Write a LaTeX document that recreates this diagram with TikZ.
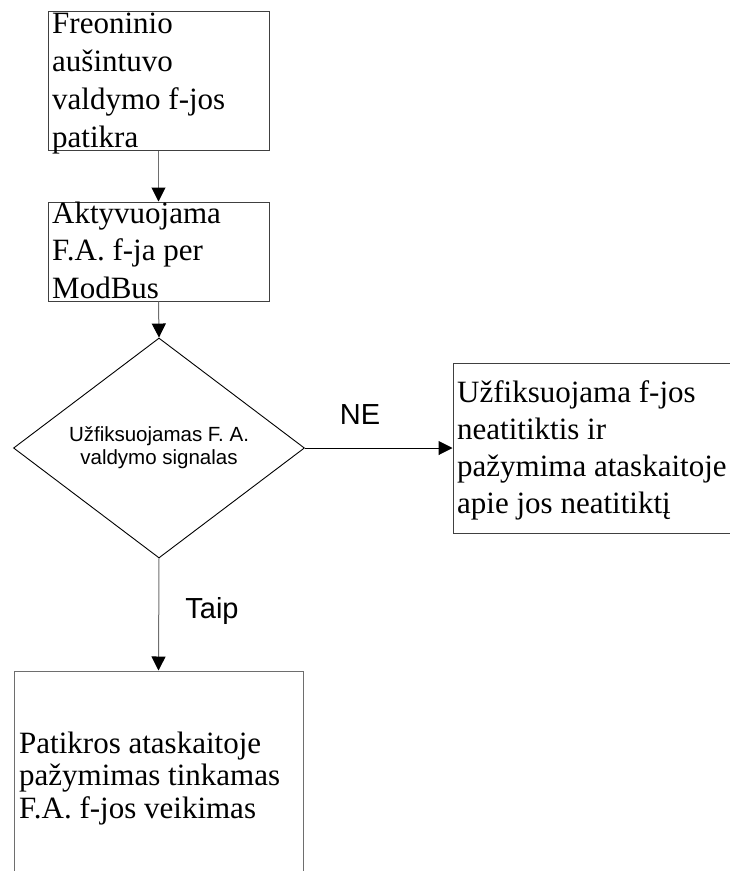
\documentclass[tikz,border=0pt]{standalone}
\usepackage{fontspec}
\setmainfont{Liberation Serif}
\setsansfont{Liberation Sans}
\usetikzlibrary{shapes.geometric,arrows.meta}
\definecolor{boxline}{HTML}{404040}
\definecolor{arrowline}{HTML}{6E6E6E}
\tikzset{
  stepbox/.style={draw=boxline, line width=1pt, rectangle, inner sep=0pt},
  steptext/.style={anchor=base west, align=left, inner sep=0pt, font=\fontsize{31}{38}\selectfont},
  decision/.style={draw=black, line width=0.9pt, diamond, inner sep=0pt},
  flow/.style={draw=arrowline, line width=1pt, -{Triangle[length=14pt,width=14pt,color=black]}},
  flowlabel/.style={font=\sffamily\fontsize{29}{34}\selectfont, inner sep=0pt}
}
\begin{document}
\begin{tikzpicture}[x=1pt,y=-1pt]
\useasboundingbox (0,0) rectangle (729,871);
% process boxes
\node[stepbox, minimum width=221pt, minimum height=139pt] (b1) at (158.5,80.5) {};
\node[stepbox, minimum width=221pt, minimum height=99pt] (b2) at (158.5,251.5) {};
\node[decision, minimum width=291pt, minimum height=220pt] (dec) at (159,448) {};
\node[stepbox, minimum width=287pt, minimum height=170pt] (b3) at (596.5,448) {};
\node[stepbox, draw=arrowline, minimum width=289pt, minimum height=220pt] (b4) at (158.5,781) {};
% box texts (placed by the baseline of their last line)
\node[steptext] (t1) at (52,147) {Freoninio\\aušintuvo\\valdymo f-jos\\patikra};
\node[steptext, font=\fontsize{31}{37.5}\selectfont] (t2) at (52,298) {Aktyvuojama\\F.A. f-ja per\\ModBus};
\node[font=\sffamily\fontsize{20.5}{23}\selectfont, align=center, inner sep=0pt] (t3) at (dec.center) {Užfiksuojamas F. A.\\valdymo signalas};
\node[steptext, font=\fontsize{31}{36.7}\selectfont] (t4) at (457,513) {Užfiksuojama f-jos\\neatitiktis ir\\pažymima ataskaitoje\\apie jos neatitiktį};
\node[steptext, font=\fontsize{31}{32.5}\selectfont] (t5) at (19,818) {Patikros ataskaitoje\\pažymimas tinkamas\\F.A. f-jos veikimas};
% connectors
\draw[flow] (b1.south) -- (b2.north);
\draw[flow] (b2.south) -- (dec.north);
\draw[flow, draw=black] (dec.east) -- (b3.west);
\draw[flow] (dec.south) -- (b4.north);
% branch labels
\node[flowlabel] (ne) at (360,415) {NE};
\node[flowlabel] (taip) at (212,611) {Taip};
\end{tikzpicture}
\end{document}
